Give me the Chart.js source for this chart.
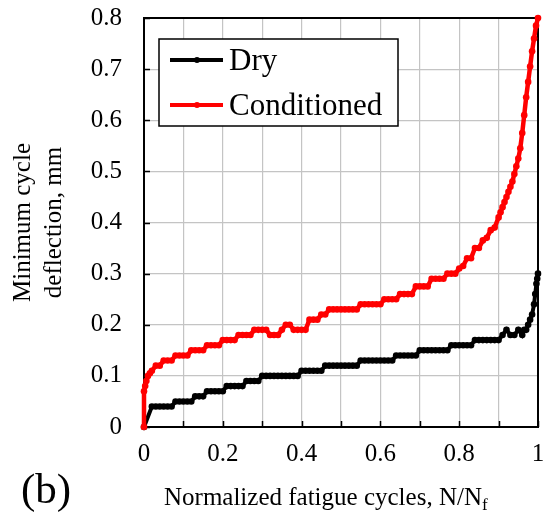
<!DOCTYPE html>
<html>
<head>
<meta charset="utf-8">
<script src="https://cdn.jsdelivr.net/npm/chart.js@4.4.1/dist/chart.umd.min.js"></script>
<style>
  html, body { margin: 0; padding: 0; background: #fff; }
  #wrap { width: 544px; height: 518px; }
</style>
</head>
<body>
<div id="wrap"><canvas id="deflectionChart" width="544" height="518"></canvas></div>
<script>
// Minimum cycle deflection vs. normalized fatigue life (N/Nf)
const seriesNames = ['Dry', 'Conditioned'];

const dryCycles = [
    0,
    0.02, 0.03, 0.04, 0.05, 0.06, 0.07, 0.08, 0.09, 0.10,
    0.11, 0.12, 0.13, 0.14, 0.15, 0.16, 0.17, 0.18, 0.19, 0.20,
    0.21, 0.22, 0.23, 0.24, 0.25, 0.26, 0.27, 0.28, 0.29, 0.30,
    0.31, 0.32, 0.33, 0.34, 0.35, 0.36, 0.37, 0.38, 0.39, 0.40,
    0.41, 0.42, 0.43, 0.44, 0.45, 0.46, 0.47, 0.48, 0.49, 0.50,
    0.51, 0.52, 0.53, 0.54, 0.55, 0.56, 0.57, 0.58, 0.59, 0.60,
    0.61, 0.62, 0.63, 0.64, 0.65, 0.66, 0.67, 0.68, 0.69, 0.70,
    0.71, 0.72, 0.73, 0.74, 0.75, 0.76, 0.77, 0.78, 0.79, 0.80,
    0.81, 0.82, 0.83, 0.84, 0.85, 0.86, 0.87, 0.88, 0.89, 0.90,
    0.91, 0.92, 0.93, 0.94, 0.95, 0.96,
    0.965, 0.97, 0.975, 0.98, 0.985, 0.99, 0.993, 0.996, 0.998, 1
];
const dryDeflection = [
    0,
    0.04, 0.04, 0.04, 0.04, 0.04, 0.04, 0.05, 0.05, 0.05,
    0.05, 0.05, 0.06, 0.06, 0.06, 0.07, 0.07, 0.07, 0.07, 0.07,
    0.08, 0.08, 0.08, 0.08, 0.08, 0.09, 0.09, 0.09, 0.09, 0.10,
    0.10, 0.10, 0.10, 0.10, 0.10, 0.10, 0.10, 0.10, 0.10, 0.11,
    0.11, 0.11, 0.11, 0.11, 0.11, 0.12, 0.12, 0.12, 0.12, 0.12,
    0.12, 0.12, 0.12, 0.12, 0.13, 0.13, 0.13, 0.13, 0.13, 0.13,
    0.13, 0.13, 0.13, 0.14, 0.14, 0.14, 0.14, 0.14, 0.14, 0.15,
    0.15, 0.15, 0.15, 0.15, 0.15, 0.15, 0.15, 0.16, 0.16, 0.16,
    0.16, 0.16, 0.16, 0.17, 0.17, 0.17, 0.17, 0.17, 0.17, 0.17,
    0.18, 0.19, 0.18, 0.18, 0.19, 0.18,
    0.19, 0.19, 0.20, 0.21, 0.22, 0.24, 0.26, 0.28, 0.29, 0.30
];

const condCycles = [
    0, 0, 0.003, 0.006, 0.01, 0.015, 0.02, 0.03, 0.04, 0.05,
    0.06, 0.07, 0.08, 0.09, 0.10, 0.11, 0.12, 0.13, 0.14, 0.15,
    0.16, 0.17, 0.18, 0.19, 0.20, 0.21, 0.22, 0.23, 0.24, 0.25,
    0.26, 0.27, 0.28, 0.29, 0.30, 0.31, 0.32, 0.33, 0.34, 0.35,
    0.36, 0.37, 0.38, 0.39, 0.40, 0.41, 0.42, 0.43, 0.44, 0.45,
    0.46, 0.47, 0.48, 0.49, 0.50, 0.51, 0.52, 0.53, 0.54, 0.55,
    0.56, 0.57, 0.58, 0.59, 0.60, 0.61, 0.62, 0.63, 0.64, 0.65,
    0.66, 0.67, 0.68, 0.69, 0.70, 0.71, 0.72, 0.73, 0.74, 0.75,
    0.76, 0.77, 0.78, 0.79, 0.80, 0.81, 0.82, 0.83, 0.84, 0.85,
    0.86, 0.87, 0.88, 0.89, 0.90, 0.905, 0.91, 0.915, 0.92, 0.925,
    0.93, 0.935, 0.94, 0.945, 0.95, 0.955, 0.96, 0.965, 0.97, 0.975,
    0.98, 0.985, 0.99, 0.995, 1
];
const condDeflection = [
    0, 0.07, 0.08, 0.09, 0.10, 0.105, 0.11, 0.12, 0.12, 0.13,
    0.13, 0.13, 0.14, 0.14, 0.14, 0.14, 0.15, 0.15, 0.15, 0.15,
    0.16, 0.16, 0.16, 0.16, 0.17, 0.17, 0.17, 0.17, 0.18, 0.18,
    0.18, 0.18, 0.19, 0.19, 0.19, 0.19, 0.18, 0.18, 0.18, 0.19,
    0.20, 0.20, 0.19, 0.19, 0.19, 0.19, 0.21, 0.21, 0.21, 0.22,
    0.22, 0.23, 0.23, 0.23, 0.23, 0.23, 0.23, 0.23, 0.23, 0.24,
    0.24, 0.24, 0.24, 0.24, 0.24, 0.25, 0.25, 0.25, 0.25, 0.26,
    0.26, 0.26, 0.26, 0.275, 0.275, 0.275, 0.275, 0.29, 0.29, 0.29,
    0.29, 0.30, 0.30, 0.30, 0.31, 0.315, 0.33, 0.33, 0.35, 0.35,
    0.365, 0.37, 0.385, 0.39, 0.41, 0.42, 0.43, 0.44, 0.45, 0.46,
    0.47, 0.48, 0.495, 0.51, 0.525, 0.545, 0.575, 0.61, 0.645, 0.675,
    0.705, 0.735, 0.76, 0.785, 0.80
];

const xTicks = [0, 0.2, 0.4, 0.6, 0.8, 1];
const yTicks = [0, 0.1, 0.2, 0.3, 0.4, 0.5, 0.6, 0.7, 0.8];
const seriesColors = ['#000000', '#ff0000'];

const FONT = "'Liberation Serif', 'Times New Roman', serif";

function toPoints(xs, ys) {
    return xs.map((x, i) => ({ x, y: ys[i] }));
}

// frame, inward tick marks, legend box and x-axis caption
const decorations = {
    id: 'decorations',
    beforeDatasetsDraw(chart) {
        const { ctx, chartArea: a, scales } = chart;
        ctx.save();
        ctx.strokeStyle = '#000';
        ctx.lineWidth = 1.5;
        ctx.beginPath();
        scales.x.ticks.forEach((t) => {
            const px = Math.round(scales.x.getPixelForValue(t.value)) + 0.5;
            ctx.moveTo(px, a.bottom);
            ctx.lineTo(px, a.bottom - 6);
        });
        scales.y.ticks.forEach((t) => {
            const py = Math.round(scales.y.getPixelForValue(t.value)) + 0.5;
            ctx.moveTo(a.left, py);
            ctx.lineTo(a.left + 6, py);
        });
        ctx.stroke();
        ctx.lineWidth = 2;
        ctx.strokeRect(a.left, a.top, a.right - a.left, a.bottom - a.top);
        ctx.restore();
    },
    afterDatasetsDraw(chart) {
        const { ctx, chartArea: a } = chart;
        const box = { x: a.left + 15, y: a.top + 21, w: 239, h: 87 };
        ctx.save();
        ctx.fillStyle = '#fff';
        ctx.fillRect(box.x, box.y, box.w, box.h);
        ctx.strokeStyle = '#000';
        ctx.lineWidth = 1.5;
        ctx.strokeRect(box.x, box.y, box.w, box.h);

        ctx.font = '31px ' + FONT;
        ctx.textBaseline = 'middle';
        chart.data.datasets.forEach((ds, i) => {
            const cy = box.y + 21 + i * 45;
            ctx.strokeStyle = ds.borderColor;
            ctx.lineWidth = 4;
            ctx.beginPath();
            ctx.moveTo(box.x + 11, cy);
            ctx.lineTo(box.x + 64, cy);
            ctx.stroke();
            ctx.fillStyle = ds.borderColor;
            ctx.beginPath();
            ctx.arc(box.x + 38, cy, 3, 0, Math.PI * 2);
            ctx.fill();
            ctx.fillStyle = '#000';
            ctx.fillText(ds.label, box.x + 70, cy + 2);
        });
        ctx.restore();
    },
    afterDraw(chart) {
        const { ctx } = chart;
        ctx.save();
        ctx.fillStyle = '#000';
        ctx.textBaseline = 'alphabetic';
        ctx.font = '25px ' + FONT;
        const main = 'Normalized fatigue cycles, N/N';
        const x0 = 164;
        ctx.fillText(main, x0, 505);
        const w = ctx.measureText(main).width;
        ctx.font = '17px ' + FONT;
        ctx.fillText('f', x0 + w, 510);

        ctx.font = '43px ' + FONT;
        ctx.fillText('(b)', 21, 503);
        ctx.restore();
    }
};

new Chart(document.getElementById('deflectionChart'), {
    type: 'scatter',
    data: {
        datasets: [
            {
                label: seriesNames[0],
                data: toPoints(dryCycles, dryDeflection),
                borderColor: seriesColors[0],
                backgroundColor: seriesColors[0],
                showLine: true,
                borderWidth: 4,
                pointRadius: 3.3,
                pointBorderWidth: 0,
                order: 1
            },
            {
                label: seriesNames[1],
                data: toPoints(condCycles, condDeflection),
                borderColor: seriesColors[1],
                backgroundColor: seriesColors[1],
                showLine: true,
                borderWidth: 4.5,
                pointRadius: 3.3,
                pointBorderWidth: 0,
                order: 0
            }
        ]
    },
    options: {
        responsive: false,
        animation: false,
        events: [],
        clip: false,
        layout: { padding: { top: 18, right: 6, left: 0, bottom: 0 } },
        plugins: {
            legend: { display: false },
            tooltip: { enabled: false }
        },
        scales: {
            x: {
                type: 'linear',
                min: 0,
                max: 1,
                afterFit: (scale) => {
                    scale.height = 91;
                    scale.paddingLeft = 0;
                    scale.paddingRight = 0;
                },
                ticks: {
                    stepSize: 0.1,
                    autoSkip: false,
                    maxRotation: 0,
                    padding: 12,
                    color: '#000',
                    font: { family: FONT, size: 25 },
                    callback: (v) => {
                        const hit = xTicks.find((t) => Math.abs(t - v) < 1e-6);
                        return hit === undefined ? '' : String(hit);
                    }
                },
                grid: { color: '#c4c4c4', lineWidth: 1.2, drawTicks: false },
                border: { color: '#000', width: 2 }
            },
            y: {
                type: 'linear',
                min: 0,
                max: 0.8,
                afterFit: (scale) => {
                    scale.width = 144;
                    scale.paddingTop = 0;
                    scale.paddingBottom = 0;
                },
                afterBuildTicks: (scale) => {
                    scale.ticks = yTicks.map((v) => ({ value: v }));
                },
                ticks: {
                    padding: 22,
                    color: '#000',
                    font: { family: FONT, size: 25 },
                    callback: (v) => String(Math.round(v * 10) / 10)
                },
                grid: { color: '#c4c4c4', lineWidth: 1.2, drawTicks: false },
                border: { color: '#000', width: 2 },
                title: {
                    display: true,
                    text: ['Minimum cycle', 'deflection, mm'],
                    color: '#000',
                    font: { family: FONT, size: 25, lineHeight: 1.25 },
                    padding: { top: 8, bottom: 0 }
                }
            }
        }
    },
    plugins: [decorations]
});
</script>
</body>
</html>
